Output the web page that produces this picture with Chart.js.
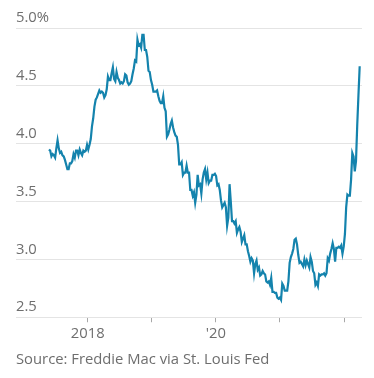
<!DOCTYPE html>
<html>
<head>
<meta charset="utf-8">
<script src="https://cdn.jsdelivr.net/npm/chart.js@4"></script>
<style>
  html, body { margin: 0; padding: 0; background: #fff; }
  #wrap { position: relative; width: 374px; height: 378px; }
  #source {
    position: absolute; left: 16px; top: 350px;
    font: 14.8px "Open Sans", Roboto, sans-serif; line-height: 17px;
    color: #6e6e6e; white-space: nowrap;
  }
</style>
</head>
<body>
<div id="wrap">
  <canvas id="rateChart" width="374" height="378"></canvas>
  <div id="source">Source: Freddie Mac via St. Louis Fed</div>
</div>
<script>
// weekly 30-year fixed rate, first week starts at START_DATE
const START_DATE = '2017-05-25';
const RATES_2017 = [3.95, 3.94, 3.89, 3.91, 3.90, 3.88, 3.96, 4.03, 3.96, 3.92, 3.93, 3.90, 3.89, 3.86, 3.82, 3.78,
    3.78, 3.83, 3.83, 3.85, 3.91, 3.88, 3.94, 3.94, 3.90, 3.95, 3.92, 3.90, 3.94, 3.93, 3.94, 3.99];
const RATES_2018 = [3.95, 3.99, 4.04, 4.15, 4.22, 4.32, 4.38, 4.40, 4.43, 4.46, 4.44, 4.45, 4.44, 4.40, 4.42, 4.47,
    4.58, 4.55, 4.55, 4.61, 4.66, 4.56, 4.54, 4.62, 4.57, 4.55, 4.52, 4.53, 4.52, 4.54, 4.60, 4.59, 4.53, 4.51,
    4.52, 4.54, 4.60, 4.65, 4.72, 4.71, 4.90, 4.85, 4.86, 4.83, 4.94, 4.94, 4.81, 4.81, 4.75, 4.63, 4.62, 4.55];
const RATES_2019 = [4.51, 4.45, 4.45, 4.45, 4.46, 4.41, 4.37, 4.35, 4.35, 4.41, 4.31, 4.28, 4.06, 4.08, 4.12, 4.17,
    4.20, 4.14, 4.10, 4.07, 4.06, 3.99, 3.82, 3.82, 3.84, 3.73, 3.75, 3.75, 3.81, 3.75, 3.75, 3.60, 3.60, 3.55,
    3.58, 3.49, 3.56, 3.73, 3.64, 3.65, 3.57, 3.69, 3.75, 3.78, 3.69, 3.75, 3.66, 3.68, 3.68, 3.73, 3.73, 3.74];
const RATES_2020 = [3.72, 3.64, 3.65, 3.60, 3.51, 3.45, 3.47, 3.49, 3.45, 3.29, 3.36, 3.65, 3.50, 3.33, 3.33, 3.31,
    3.33, 3.23, 3.26, 3.28, 3.24, 3.15, 3.18, 3.21, 3.13, 3.13, 3.07, 3.03, 2.98, 3.01, 2.99, 2.88, 2.96, 2.99,
    2.91, 2.93, 2.86, 2.87, 2.90, 2.88, 2.87, 2.81, 2.80, 2.81, 2.78, 2.84, 2.72, 2.72, 2.71, 2.71, 2.67, 2.66, 2.67];
const RATES_2021 = [2.65, 2.79, 2.77, 2.73, 2.73, 2.73, 2.81, 2.97, 3.02, 3.05, 3.09, 3.17, 3.18, 3.13, 3.04, 2.97,
    2.98, 2.96, 2.94, 3.00, 2.95, 2.99, 2.96, 2.93, 3.02, 2.98, 2.90, 2.88, 2.78, 2.80, 2.77, 2.87, 2.86, 2.87,
    2.87, 2.88, 2.86, 2.88, 3.01, 2.99, 3.05, 3.09, 3.14, 3.09, 2.98, 3.10, 3.10, 3.11, 3.10, 3.12, 3.05, 3.11];
const RATES_2022 = [3.22, 3.45, 3.56, 3.55, 3.55, 3.69, 3.92, 3.89, 3.76, 3.85, 4.16, 4.42, 4.67];

const YEAR_TICKS = [2018, 2019, 2020, 2021, 2022];
const YEAR_LABELS = { 2018: '2018', 2020: "'20" };
const RATE_TICKS = [2.5, 3.0, 3.5, 4.0, 4.5, 5.0];

const rates = [].concat(RATES_2017, RATES_2018, RATES_2019, RATES_2020, RATES_2021, RATES_2022);

function decimalYear(d) {
    const y = d.getUTCFullYear();
    const start = Date.UTC(y, 0, 1);
    const end = Date.UTC(y + 1, 0, 1);
    return y + (d.getTime() - start) / (end - start);
}

const t0 = new Date(START_DATE + 'T00:00:00Z').getTime();
const points = rates.map((r, i) => ({
    x: decimalYear(new Date(t0 + i * 7 * 86400000)),
    y: r
}));

const textColor = '#6e6e6e';
const gridColor = '#e4e4e4';
const font = { family: '"Open Sans", Roboto, sans-serif', size: 14.8 };

const ctx = document.getElementById('rateChart').getContext('2d');
new Chart(ctx, {
    type: 'line',
    data: {
        datasets: [{
            data: points,
            borderColor: '#1483ad',
            borderWidth: 2.2,
            pointRadius: 0,
            tension: 0,
            fill: false
        }]
    },
    options: {
        responsive: false,
        animation: false,
        events: [],
        layout: {
            padding: { top: 28, left: 16, right: 12, bottom: 32 }
        },
        plugins: {
            legend: { display: false },
            tooltip: { enabled: false }
        },
        scales: {
            x: {
                type: 'linear',
                min: 2016.88,
                max: 2022.28,
                afterBuildTicks: function (scale) {
                    scale.ticks = YEAR_TICKS.map(v => ({ value: v }));
                },
                grid: {
                    drawOnChartArea: false,
                    drawTicks: true,
                    tickLength: 5,
                    color: '#a8a8a8'
                },
                border: { display: false },
                ticks: {
                    color: textColor,
                    font: font,
                    padding: 3,
                    maxRotation: 0,
                    autoSkip: false,
                    callback: function (value) {
                        return YEAR_LABELS[value] || '';
                    }
                }
            },
            y: {
                min: 2.5,
                max: 5.0,
                afterBuildTicks: function (scale) {
                    scale.ticks = RATE_TICKS.map(v => ({ value: v }));
                },
                grid: {
                    color: gridColor,
                    lineWidth: 1,
                    drawTicks: false
                },
                border: { display: false },
                ticks: {
                    mirror: true,
                    padding: 0,
                    labelOffset: -10,
                    color: textColor,
                    font: font,
                    callback: function (value) {
                        return value === 5 ? '5.0%' : value.toFixed(1);
                    }
                }
            }
        }
    }
});
</script>
</body>
</html>
